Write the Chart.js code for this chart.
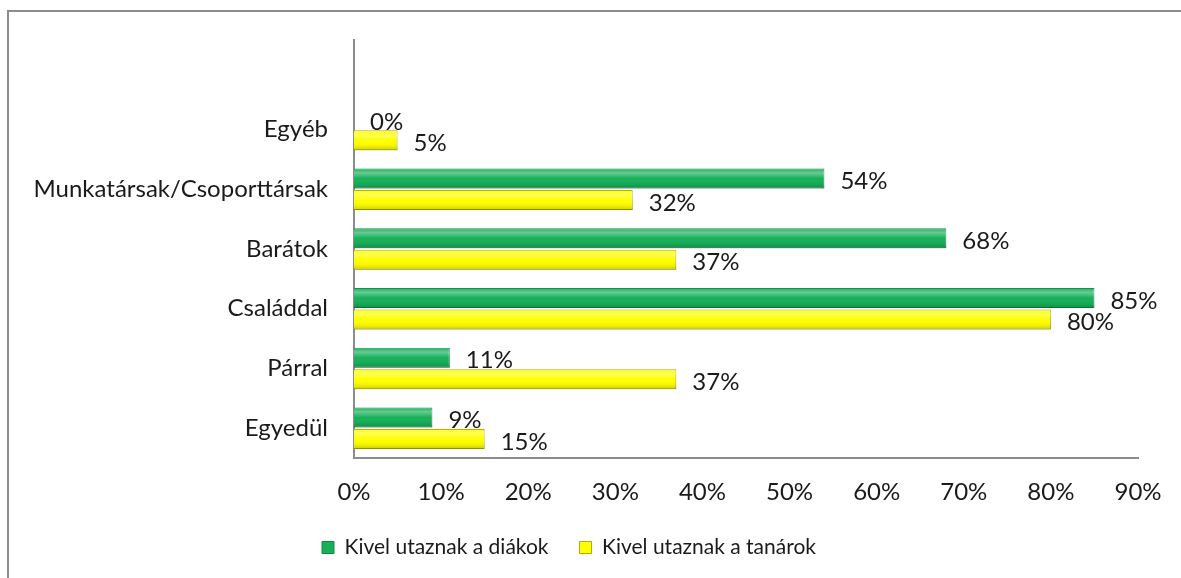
<!DOCTYPE html>
<html>
<head>
<meta charset="utf-8">
<script src="https://cdn.jsdelivr.net/npm/chart.js@4"></script>
<style>
  html, body { margin: 0; padding: 0; background: #fff; }
  #wrap { width: 1181px; height: 578px; position: relative; }
</style>
</head>
<body>
<div id="wrap"><canvas id="travel-chart"></canvas></div>
<script>
// Categories, top to bottom
const categories = ['Egyéb', 'Munkatársak/Csoporttársak', 'Barátok', 'Családdal', 'Párral', 'Egyedül'];
// Values in percent
const studentValues = [0, 54, 68, 85, 11, 9];
const teacherValues = [5, 32, 37, 80, 37, 15];
const seriesNames = ['Kivel utaznak a diákok', 'Kivel utaznak a tanárok'];
const xTicks = [0, 10, 20, 30, 40, 50, 60, 70, 80, 90];

const FONT = 'Lato, "Open Sans", sans-serif';

// Empty slot on top, like the original chart
const labels = [''].concat(categories);
const withGap = arr => [null].concat(arr);

// Plugin: outer frame, bevel shading on bars and value labels
const extras = {
    id: 'extras',
    beforeDraw(chart) {
        const ctx = chart.ctx;
        ctx.save();
        ctx.strokeStyle = '#8c8c8c';
        ctx.lineWidth = 2;
        ctx.beginPath();
        ctx.moveTo(8, 600);
        ctx.lineTo(8, 11);
        ctx.lineTo(1200, 11);
        ctx.stroke();
        ctx.restore();
    },
    afterDatasetsDraw(chart) {
        const ctx = chart.ctx;
        ctx.save();
        // bevel shading
        chart.data.datasets.forEach((ds, i) => {
            chart.getDatasetMeta(i).data.forEach((bar, j) => {
                if (!ds.data[j]) return;
                const p = bar.getProps(['x', 'y', 'base', 'height'], true);
                const top = p.y - p.height / 2;
                const g = ctx.createLinearGradient(0, top, 0, top + p.height);
                g.addColorStop(0, 'rgba(255,255,255,0)');
                g.addColorStop(0.22, 'rgba(255,255,255,0.35)');
                g.addColorStop(0.5, 'rgba(255,255,255,0)');
                g.addColorStop(0.8, 'rgba(0,0,0,0.06)');
                g.addColorStop(1, 'rgba(0,0,0,0.2)');
                ctx.fillStyle = g;
                ctx.fillRect(p.base, top, p.x - p.base, p.height);
            });
        });
        // value labels
        ctx.font = '24px ' + FONT;
        ctx.fillStyle = '#1a1a1a';
        ctx.textAlign = 'left';
        ctx.textBaseline = 'middle';
        chart.data.datasets.forEach((ds, i) => {
            chart.getDatasetMeta(i).data.forEach((bar, j) => {
                const v = ds.data[j];
                if (v == null) return;
                ctx.fillText(v + '%', bar.x + 16, bar.y + 3);
            });
        });
        ctx.restore();
    }
};

new Chart(document.getElementById('travel-chart'), {
    type: 'bar',
    data: {
        labels: labels,
        datasets: [{
            label: seriesNames[0],
            data: withGap(studentValues),
            backgroundColor: '#17b059',
            borderColor: '#0e8a45',
            borderWidth: 1,
            borderSkipped: 'left',
            categoryPercentage: 0.72,
            barPercentage: 0.93
        }, {
            label: seriesNames[1],
            data: withGap(teacherValues),
            backgroundColor: '#ffff00',
            borderColor: '#b0b000',
            borderWidth: 1,
            borderSkipped: 'left',
            categoryPercentage: 0.72,
            barPercentage: 0.93
        }]
    },
    options: {
        indexAxis: 'y',
        responsive: true,
        maintainAspectRatio: false,
        animation: false,
        layout: { padding: { left: 0, right: 43, top: 40, bottom: 10 } },
        plugins: {
            legend: {
                position: 'bottom',
                labels: {
                    font: { family: FONT, size: 21 },
                    color: '#1a1a1a',
                    boxWidth: 12,
                    boxHeight: 12,
                    padding: 31
                }
            },
            tooltip: { enabled: false }
        },
        scales: {
            x: {
                min: 0,
                max: 90,
                afterBuildTicks: scale => { scale.ticks = xTicks.map(v => ({ value: v })); },
                afterFit: scale => { scale.height = 48; },
                grid: { display: false },
                border: { display: true, color: '#8c8c8c', width: 2 },
                ticks: {
                    font: { family: FONT, size: 24 },
                    color: '#1a1a1a',
                    padding: 12,
                    callback: v => v + '%'
                }
            },
            y: {
                afterFit: scale => { scale.width = 354; },
                grid: { display: false },
                border: { display: true, color: '#8c8c8c', width: 2 },
                ticks: {
                    font: { family: FONT, size: 24 },
                    color: '#1a1a1a',
                    padding: 18
                }
            }
        }
    },
    plugins: [extras]
});
</script>
</body>
</html>
